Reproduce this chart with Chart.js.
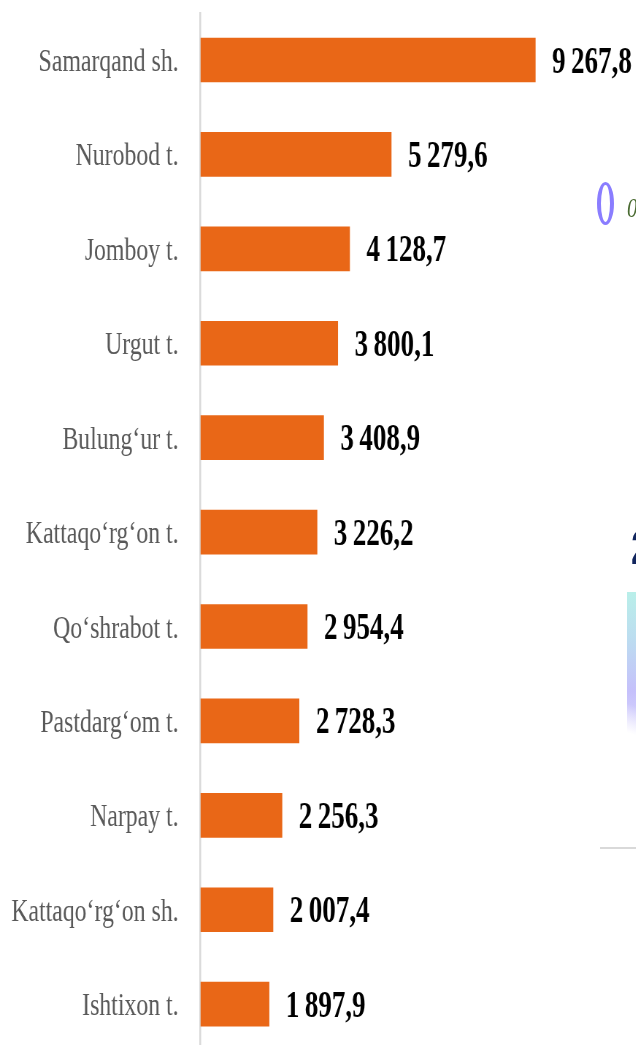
<!DOCTYPE html>
<html><head><meta charset="utf-8">
<script src="https://cdn.jsdelivr.net/npm/chart.js@4"></script>
<style>
html,body{margin:0;padding:0;background:#fff;width:636px;height:1045px;overflow:hidden}
#wrap{position:absolute;left:0;top:0;width:636px;height:1045px;overflow:hidden}
#c{position:absolute;left:0;top:0;transform-origin:0 0}
.ring{position:absolute;left:597px;top:182px;width:9px;height:37px;border-style:solid;border-color:#8a7dff;border-width:3.5px 4.5px;border-radius:50%}
.zero{position:absolute;left:627px;top:192px;font:italic 28px "Liberation Serif";color:#4a6b32;transform:scaleX(.75);transform-origin:0 0}
.two{position:absolute;left:631px;top:520px;font:bold 48px "Liberation Sans";color:#12265e;transform:scaleX(.75);transform-origin:0 0}
.grad{position:absolute;left:627px;top:592px;width:9px;height:160px;background:linear-gradient(200deg,rgba(255,255,255,0) 70%,#fff 88%),linear-gradient(180deg,#b9efe9 0%,#bcdcf0 30%,#c5c0fb 62%,#d8d4fd 85%,#fff 100%)}
.rule{position:absolute;left:600px;top:847px;width:36px;height:2px;background:#d9d9d9}
</style></head><body>
<div id="wrap">
<canvas id="c"></canvas>
<div class="ring"></div><div class="zero">0</div><div class="two">2</div><div class="grad"></div><div class="rule"></div>
</div>
<script>
const categories=["Samarqand sh.","Nurobod t.","Jomboy t.","Urgut t.","Bulung‘ur t.","Kattaqo‘rg‘on t.","Qo‘shrabot t.","Pastdarg‘om t.","Narpay t.","Kattaqo‘rg‘on sh.","Ishtixon t."];
const values=[9267.8,5279.6,4128.7,3800.1,3408.9,3226.2,2954.4,2728.3,2256.3,2007.4,1897.9];
const valueLabels=["9\u2009267,8","5\u2009279,6","4\u2009128,7","3\u2009800,1","3\u2009408,9","3\u2009226,2","2\u2009954,4","2\u2009728,3","2\u2009256,3","2\u2009007,4","1\u2009897,9"];
const K=0.73;
const cv=document.getElementById('c');
cv.width=Math.round(636/K);cv.height=1052;
cv.style.width=cv.width+'px';cv.style.height='1052px';cv.style.transform='scaleX('+K+')';
const valuePlugin={id:'valueLabels',afterDatasetsDraw(ch){
  const c=ch.ctx;c.save();c.font='bold 37px "Liberation Serif"';c.fillStyle='#000';c.textAlign='left';c.textBaseline='middle';
  ch.getDatasetMeta(0).data.forEach((b,i)=>c.fillText(valueLabels[i],b.x+23,b.y+3));
  c.restore();}};
new Chart(cv,{type:'bar',
 data:{labels:categories,datasets:[{data:values,backgroundColor:'#E96717',barThickness:44}]},
 plugins:[valuePlugin],
 options:{indexAxis:'y',responsive:false,animation:false,devicePixelRatio:1,
  layout:{padding:{top:12.8,bottom:0.6,left:0,right:0}},
  plugins:{legend:{display:false},tooltip:{enabled:false},title:{display:false}},
  scales:{
   x:{display:false,min:0,max:12050},
   y:{afterFit(s){s.width=200.5/K;s.paddingTop=0;s.paddingBottom=0;},
      grid:{display:false,drawTicks:false},
      border:{display:true,color:'#d9d9d9',width:2.5},
      ticks:{color:'#595959',padding:30,labelOffset:2.5,autoSkip:false,font:{family:'"Liberation Serif"',size:32.6}}}
  }}});
</script>
</body></html>
